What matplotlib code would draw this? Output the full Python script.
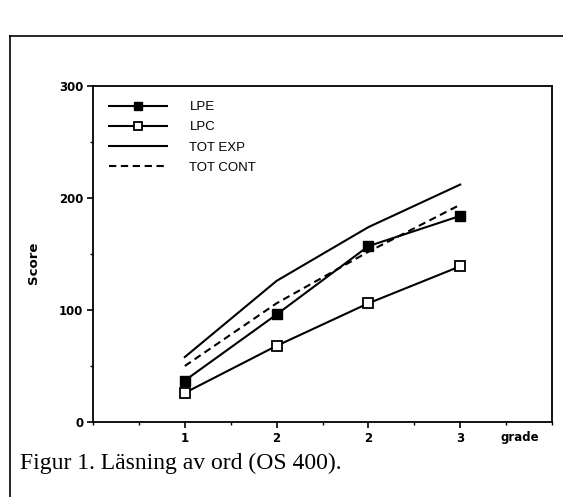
import matplotlib.pyplot as plt
from matplotlib.lines import Line2D
from matplotlib.ticker import MultipleLocator

# values
grade_pos = [1, 2, 3, 4]
grade_labels = ['1', '2', '2', '3']
lpe = [37, 96, 157, 184]
lpc = [26, 68, 106, 139]
tot_exp = [58, 126, 174, 212]
tot_cont = [50, 106, 152, 194]

W, H = 563, 497
fig = plt.figure(figsize=(W / 100, H / 100), dpi=100)
ax = fig.add_axes([93 / W, 1 - 422 / H, (552 - 93) / W, (422 - 86) / H])

lw = 1.5
ax.plot(grade_pos, lpe, color='black', lw=lw, marker='s', ms=7,
        mfc='black', mec='black', label='LPE')
ax.plot(grade_pos, lpc, color='black', lw=lw, marker='s', ms=7.5,
        mfc='white', mec='black', mew=1.3, label='LPC')
ax.plot(grade_pos, tot_exp, color='black', lw=lw, label='TOT EXP')
ax.plot(grade_pos, tot_cont, color='black', lw=lw, ls=(0, (3.5, 2.2)),
        label='TOT CONT')

ax.set_xlim(0, 5)
ax.set_ylim(0, 300)
ax.set_xticks(grade_pos)
ax.set_xticklabels(grade_labels)
ax.xaxis.set_minor_locator(MultipleLocator(0.5))
ax.set_yticks([0, 100, 200, 300])
ax.yaxis.set_minor_locator(MultipleLocator(50))
ax.tick_params(which='major', direction='out', length=4, width=1.2,
               labelsize=8.5, pad=3)
ax.tick_params(which='minor', direction='out', length=2, width=1)
for lab in ax.get_xticklabels() + ax.get_yticklabels():
    lab.set_fontweight('bold')
for sp in ax.spines.values():
    sp.set_linewidth(1.3)

ax.text(4.65, -8, 'grade', ha='center', va='top', fontsize=8.5,
        fontweight='bold', transform=ax.transData, clip_on=False)
fig.text(33 / W, 1 - 263 / H, 'Score', rotation=90, ha='center',
         va='center', fontsize=9.5, fontweight='bold')

ax.legend(loc='upper left', bbox_to_anchor=(16 / 459, 1 - 15 / 336),
          frameon=False, borderpad=0, borderaxespad=0, handlelength=4.4,
          handletextpad=1.7, labelspacing=0.6, numpoints=1, markerscale=0.75,
          prop={'size': 9.5, 'family': 'Liberation Sans'})

# outer frame of the scanned page
fig.add_artist(Line2D([10 / W, 1], [1 - 36 / H, 1 - 36 / H], color='black', lw=1.2))
fig.add_artist(Line2D([10 / W, 10 / W], [0, 1 - 36 / H], color='black', lw=1.2))

fig.text(20 / W, 1 - 463 / H, 'Figur 1. Läsning av ord (OS 400).',
         fontsize=17, family='Liberation Serif', va='center')

fig.savefig('out.png', dpi=100)
